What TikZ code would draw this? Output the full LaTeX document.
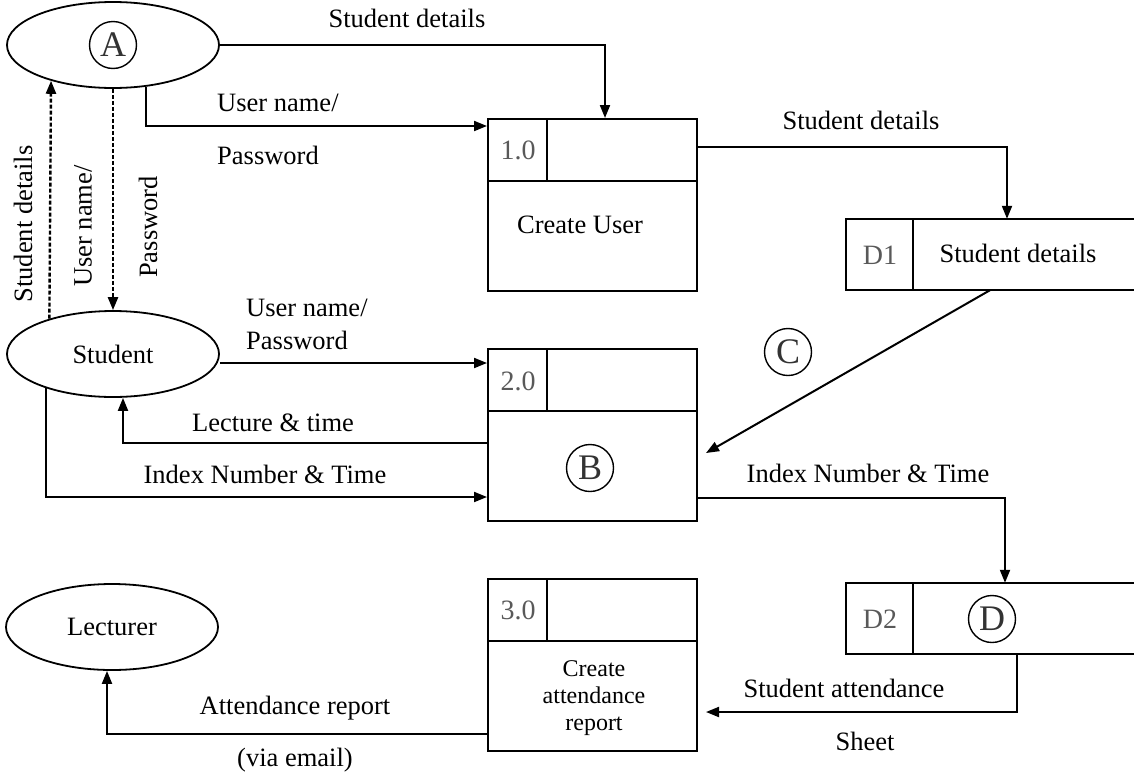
\documentclass[tikz,border=0pt]{standalone}
\usepackage{fontspec}
\setmainfont{Liberation Serif}
\usepackage{tikz}
\usetikzlibrary{shapes.geometric, arrows.meta, positioning, calc}
\tikzset{
  proc/.style={draw, line width=2pt, minimum width=209pt, minimum height=172pt, inner sep=0pt},
  store/.style={minimum width=288pt, minimum height=71pt, inner sep=0pt},
  ent/.style={draw, ellipse, line width=1.8pt, minimum width=212pt, minimum height=86pt, inner sep=0pt},
  lbl/.style={inner sep=1pt},
  tag/.style={draw, circle, line width=1.4pt, minimum size=47pt, inner sep=0pt, text=black!80, font=\fontsize{36}{36}\selectfont},
  num/.style={inner sep=0pt, text=black!65, font=\fontsize{28}{28}\selectfont},
  edge/.style={line width=2pt},
  arr/.style={-{Triangle[length=13pt,width=10pt]}, line width=2pt},
  darr/.style={arr, line width=2.4pt, dash pattern=on 4pt off 2pt},
}

\begin{document}
\begin{tikzpicture}[x=1pt, y=-1pt, font=\fontsize{26.5}{30}\selectfont]
  \useasboundingbox (0,0) rectangle (1134,782);

  % external entities
  \node[ent] (a) at (113,45) {};
  \node[tag] (ta) at (113,45) {A};
  \node[ent] (st) at (113,354) {Student};
  \node[ent] (lec) at (112,627) {Lecturer};

  % processes
  \node[proc] (b1) at (592.5,205) {};
  \node[proc] (b2) at (592.5,435) {};
  \node[proc] (b3) at (592.5,665) {};
  \draw[edge] ([yshift=-63pt]b1.north west) -- ([yshift=-63pt]b1.north east);
  \draw[edge] ([xshift=60pt]b1.north west) -- ([xshift=60pt,yshift=-63pt]b1.north west);
  \draw[edge] ([yshift=-63pt]b2.north west) -- ([yshift=-63pt]b2.north east);
  \draw[edge] ([xshift=60pt]b2.north west) -- ([xshift=60pt,yshift=-63pt]b2.north west);
  \draw[edge] ([yshift=-63pt]b3.north west) -- ([yshift=-63pt]b3.north east);
  \draw[edge] ([xshift=60pt]b3.north west) -- ([xshift=60pt,yshift=-63pt]b3.north west);
  \node[num] (n1) at (518,150) {1.0};
  \node[num] (n2) at (518,381) {2.0};
  \node[num] (n3) at (518,610) {3.0};
  \node[lbl] (p1) at (580,225) {Create User};
  \node[tag] (tb) at (590,468) {B};
  \node[lbl, align=center, font=\fontsize{24}{27}\selectfont] (p3) at (594,698) {Create\\attendance\\report};

  % data stores
  \node[store] (d1) at (990,254.5) {};
  \node[store] (d2) at (990,618.5) {};
  \draw[edge] (d1.north east) -- (d1.north west) -- (d1.south west) -- (d1.south east);
  \draw[edge] ([xshift=67pt]d1.north west) -- ([xshift=67pt]d1.south west);
  \draw[edge] (d2.north east) -- (d2.north west) -- (d2.south west) -- (d2.south east);
  \draw[edge] ([xshift=67pt]d2.north west) -- ([xshift=67pt]d2.south west);
  \node[num] (s1) at (880,255) {D1};
  \node[num] (s2) at (880,619) {D2};
  \node[lbl] (s1t) at (1018,253) {Student details};
  \node[tag] (td) at (992,619) {D};

  % flows
  \draw[arr] (a.east) -| ([xshift=12.5pt]b1.north);
  \node[lbl] (f1) at (407,18) {Student details};
  \draw[arr] (a.-52) |- ([yshift=79pt]b1.west);
  \node[lbl, anchor=west] (f2a) at (216,103) {User name/};
  \node[lbl, anchor=west] (f2b) at (216,155) {Password};
  \draw[arr] ([yshift=58pt]b1.east) -| ([xshift=17pt]d1.north);
  \node[lbl] (f3) at (861,120) {Student details};
  \draw[arr] (d1.south) -- ([shift={(8pt,-18pt)}]b2.east);
  \node[tag] (tc) at (788,352) {C};
  \draw[arr] (st.east |- 0,363) -- ([yshift=72pt]b2.west);
  \node[lbl, anchor=west] (f5a) at (245,308) {User name/};
  \node[lbl, anchor=west] (f5b) at (245,340) {Password};
  \draw[arr] ([yshift=-8pt]b2.west) -| ([xshift=10pt]st.south);
  \node[lbl] (f6) at (273,423) {Lecture \& time};
  \draw[arr] (st.207) |- ([yshift=-62pt]b2.west);
  \node[lbl] (f7) at (265,474) {Index Number \& Time};
  \draw[arr] ([yshift=-63pt]b2.east) -| ([xshift=15pt]d2.north);
  \node[lbl] (f8) at (868,473) {Index Number \& Time};
  \draw[arr] ([xshift=27pt]d2.south) |- ([shift={(8pt,-47pt)}]b3.east);
  \node[lbl] (f9a) at (844,688) {Student attendance};
  \node[lbl] (f9b) at (865,741) {Sheet};
  \draw[arr] ([yshift=-69pt]b3.west) -| ([xshift=-5pt]lec.south);
  \node[lbl] (f10a) at (295,708) {Attendance report};
  \node[lbl] (f10b) at (295,760) {(via email)};

  % dashed flows between the two entities
  \draw[darr] (st.151) -- (a.210);
  \node[lbl, rotate=90] (f11) at (23,224) {Student details};
  \draw[darr] (a.south) -- (st.north);
  \node[lbl, rotate=90] (f12a) at (83,226) {User name/};
  \node[lbl, rotate=90] (f12b) at (148,227) {Password};
\end{tikzpicture}
\end{document}
